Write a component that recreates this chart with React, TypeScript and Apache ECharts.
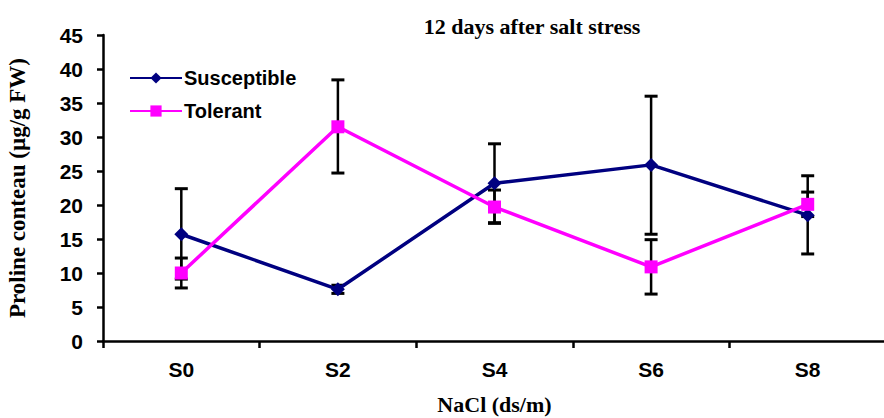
import React, { useEffect, useRef } from "react";
import * as echarts from "echarts";

const categories = ["S0", "S2", "S4", "S6", "S8"];
const susceptible = [15.7, 7.6, 23.2, 25.9, 18.5];
const tolerant = [10.0, 31.5, 19.7, 10.9, 20.1];
const susLow = [9.1, 7.0, 17.4, 15.7, 12.8];
const susHigh = [22.4, 8.2, 29.0, 36.0, 24.3];
const tolLow = [7.8, 24.7, 17.3, 6.9, 18.3];
const tolHigh = [12.2, 38.4, 22.2, 14.9, 21.9];
const yTicks = [0, 5, 10, 15, 20, 25, 30, 35, 40, 45];

const SANS = "'Liberation Sans', Arial, sans-serif";
const SERIF = "'Liberation Serif', 'Times New Roman', serif";

function errorSeries(name: string, low: number[], high: number[]) {
  return {
    type: "custom",
    name,
    z: 1,
    silent: true,
    data: categories.map((c, i) => [i, low[i], high[i]]),
    renderItem: (params: any, api: any) => {
      const x = api.value(0);
      const lo = api.coord([x, api.value(1)]);
      const hi = api.coord([x, api.value(2)]);
      const hw = 6.5;
      return {
        type: "group",
        children: [
          { type: "line", shape: { x1: lo[0], y1: lo[1], x2: hi[0], y2: hi[1] }, style: { stroke: "#000", lineWidth: 2.5 } },
          { type: "line", shape: { x1: lo[0] - hw, y1: lo[1], x2: lo[0] + hw, y2: lo[1] }, style: { stroke: "#000", lineWidth: 3 } },
          { type: "line", shape: { x1: hi[0] - hw, y1: hi[1], x2: hi[0] + hw, y2: hi[1] }, style: { stroke: "#000", lineWidth: 3 } },
        ],
      };
    },
  };
}

export default function App() {
  const ref = useRef<HTMLDivElement>(null);
  useEffect(() => {
    const chart = echarts.init(ref.current!, null, { renderer: "svg" });
    chart.setOption({
      animation: false,
      backgroundColor: "#fff",
      title: {
        text: "12 days after salt stress",
        left: 527,
        top: 10,
        textAlign: "center",
        textStyle: { fontFamily: SERIF, fontWeight: "bold", fontSize: 22, color: "#000" },
      },
      legend: {
        orient: "vertical",
        left: 124,
        top: 63,
        itemWidth: 52,
        itemHeight: 14,
        itemGap: 13,
        textStyle: { fontFamily: SANS, fontWeight: "bold", fontSize: 20, color: "#000", padding: [0, 0, 0, -3] },
        data: ["Susceptible", "Tolerant"],
      },
      grid: { left: 103, top: 35, width: 783, height: 306, containLabel: false, outerBoundsMode: "none" },
      xAxis: {
        type: "category",
        data: categories,
        boundaryGap: true,
        name: "NaCl (ds/m)",
        nameLocation: "middle",
        nameGap: 52,
        nameTextStyle: { fontFamily: SERIF, fontWeight: "bold", fontSize: 22, color: "#000" },
        axisLine: { lineStyle: { color: "#000", width: 2.5 } },
        axisTick: { show: true, length: 7, lineStyle: { color: "#000", width: 2.5 } },
        axisLabel: { fontFamily: SANS, fontWeight: "bold", fontSize: 21, color: "#000", margin: 18 },
        splitLine: { show: false },
      },
      yAxis: {
        type: "value",
        min: yTicks[0],
        max: yTicks[yTicks.length - 1],
        interval: 5,
        name: "Proline conteau (µg/g FW)",
        nameLocation: "middle",
        nameGap: 74,
        nameTextStyle: { fontFamily: SERIF, fontWeight: "bold", fontSize: 23, color: "#000" },
        axisLine: { show: true, lineStyle: { color: "#000", width: 2.5 } },
        axisTick: { show: true, length: 6, lineStyle: { color: "#000", width: 2.5 } },
        axisLabel: { fontFamily: SANS, fontWeight: "bold", fontSize: 21, color: "#000", margin: 20 },
        splitLine: { show: false },
      },
      series: [
        errorSeries("susErr", susLow, susHigh),
        errorSeries("tolErr", tolLow, tolHigh),
        {
          type: "line",
          name: "Susceptible",
          z: 3,
          data: susceptible,
          symbol: "diamond",
          symbolSize: 14,
          lineStyle: { color: "#000080", width: 3.5 },
          itemStyle: { color: "#000080" },
        },
        {
          type: "line",
          name: "Tolerant",
          z: 3,
          data: tolerant,
          symbol: "rect",
          symbolSize: 13,
          lineStyle: { color: "#FF00FF", width: 3.5 },
          itemStyle: { color: "#FF00FF" },
        },
      ],
    });
    return () => chart.dispose();
  }, []);
  return (
    <div
      ref={ref}
      style={{ position: "fixed", left: 0, top: 0, width: 884, height: 418, background: "#fff" }}
    />
  );
}
